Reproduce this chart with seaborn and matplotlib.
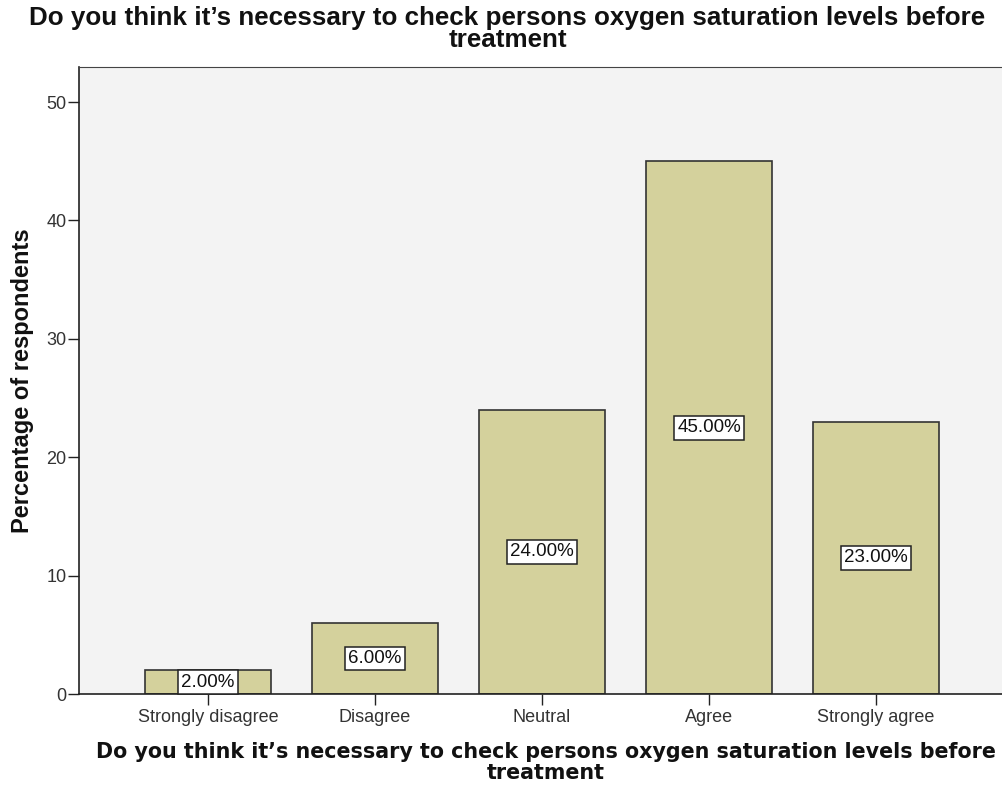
import numpy as np
import pandas as pd
import matplotlib
matplotlib.use('Agg')
import matplotlib.pyplot as plt
import seaborn as sns

# ── Data ─────────────────────────────────────────────
categories = ['Strongly disagree', 'Disagree', 'Neutral', 'Agree', 'Strongly agree']
percentages = [2.0, 6.0, 24.0, 45.0, 23.0]
y_ticks = [0, 10, 20, 30, 40, 50]

question = "Do you think it\u2019s necessary to check persons oxygen saturation levels before\ntreatment"

df = pd.DataFrame({'Response': categories, 'Percent': percentages})

# ── Style ────────────────────────────────────────────
sns.set_style('white')
plt.rcParams['font.family'] = ['Liberation Sans', 'DejaVu Sans']

fig = plt.figure(figsize=(10.03, 7.91), dpi=100)
ax = fig.add_axes([0.0788, 0.1226, 0.9212, 0.7927])
ax.set_facecolor('#f3f3f3')

sns.barplot(data=df, x='Response', y='Percent', color='#d4d19c', width=0.75,
            edgecolor='#333333', linewidth=1.2, saturation=1, ax=ax)

# value labels in boxes at the middle of each bar
for i, v in enumerate(percentages):
    ax.text(i, v / 2, f'{v:.2f}%', ha='center', va='center', fontsize=13.5,
            color='#111111',
            bbox=dict(boxstyle='square,pad=0.18', facecolor='white',
                      edgecolor='#222222', linewidth=1.1))

ax.set_xlim(-0.772, 4.76)
ax.set_ylim(0, 52.96)
ax.set_yticks(y_ticks)
ax.tick_params(axis='both', direction='out', length=8, width=1,
               colors='#222222', labelsize=13, labelcolor='#333333',
               left=True, bottom=True)
ax.tick_params(axis='y', pad=1)
ax.tick_params(axis='x', pad=3)

for side in ['left', 'bottom']:
    ax.spines[side].set_color('#222222')
    ax.spines[side].set_linewidth(1.2)
for side in ['top', 'right']:
    ax.spines[side].set_color('#444444')
    ax.spines[side].set_linewidth(0.8)

ax.set_ylabel('Percentage of respondents', fontsize=17, fontweight='bold',
              labelpad=9, color='#111111')
ax.set_xlabel(question, fontsize=14.9, fontweight='bold',
              linespacing=1.05, family=['DejaVu Sans'], color='#111111')
ax.xaxis.set_label_coords(0.505, -0.077)
ax.xaxis.label.set_va('top')
fig.suptitle(question, fontsize=18.7, fontweight='bold', x=0.506, y=0.993,
             linespacing=0.93, color='#111111')

plt.savefig('out.png', dpi=100)
